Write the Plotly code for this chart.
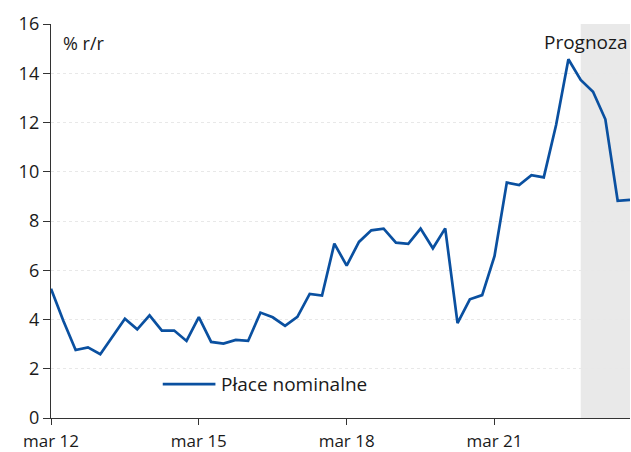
import plotly.graph_objects as go

quarters = list(range(48))
values = [5.25, 3.95, 2.76, 2.87, 2.59, 3.3, 4.03, 3.6, 4.17, 3.55, 3.55, 3.13,
          4.1, 3.09, 3.02, 3.17, 3.13, 4.28, 4.09, 3.74, 4.11, 5.04, 4.97, 7.08,
          6.19, 7.15, 7.62, 7.69, 7.12, 7.07, 7.69, 6.89, 7.7, 3.85, 4.82, 4.99,
          6.57, 9.56, 9.46, 9.86, 9.77, 11.9, 14.57, 13.73, 13.25, 12.13, 8.82, 8.86]
tick_vals = [0, 12, 24, 36]
tick_text = ["mar 12", "mar 15", "mar 18", "mar 21"]
forecast_start = 43
series_name = "Płace nominalne"

FONT = "Open Sans"
BLUE = "#0a50a0"
TXT = "#1a1a1a"

fig = go.Figure()
fig.add_trace(go.Scatter(x=quarters, y=values, mode="lines", name=series_name,
                         line=dict(color=BLUE, width=2.7), showlegend=False,
                         hoverinfo="skip"))

fig.add_shape(type="rect", xref="x", yref="paper", x0=forecast_start, x1=47,
              y0=0, y1=1, fillcolor="#e9e9e9", line=dict(width=0), layer="below")

# manual legend
fig.add_shape(type="line", xref="paper", yref="paper", x0=0.193, x1=0.284,
              y0=0.086, y1=0.086, line=dict(color=BLUE, width=2.7))
fig.add_annotation(xref="paper", yref="paper", x=0.291, y=0.086, text=series_name,
                   showarrow=False, xanchor="left", yanchor="middle",
                   font=dict(family=FONT, size=19, color=TXT))

fig.add_annotation(xref="paper", yref="paper", x=0.018, y=0.952, text="% r/r",
                   showarrow=False, xanchor="left", yanchor="middle",
                   font=dict(family=FONT, size=18, color=TXT))
fig.add_annotation(xref="paper", yref="paper", x=1.0, y=0.955, text="Prognoza",
                   showarrow=False, xanchor="right", yanchor="middle",
                   font=dict(family=FONT, size=19, color=TXT))

fig.update_layout(
    width=631, height=452,
    margin=dict(l=51, r=1, t=24, b=34, autoexpand=False),
    plot_bgcolor="white", paper_bgcolor="white",
    font=dict(family=FONT, size=18, color=TXT),
    showlegend=False,
)
fig.update_xaxes(range=[0, 47], tickvals=tick_vals, ticktext=tick_text,
                 showgrid=False, showline=True, linecolor="#333", linewidth=1.2,
                 ticks="outside", ticklen=6, tickcolor="#333", zeroline=False,
                 automargin=False, ticklabelstandoff=1, tickfont=dict(size=17))
fig.update_yaxes(range=[0, 16], dtick=2, showgrid=True, gridcolor="#e8e8e8",
                 griddash="dot", gridwidth=1, showline=True, linecolor="#333",
                 linewidth=1.2, ticks="outside", ticklen=7, tickcolor="#333",
                 zeroline=False, automargin=False)

fig.write_html("out.html", config={"displayModeBar": False, "staticPlot": True},
               post_script="document.body.style.margin='0';document.body.style.overflow='hidden';")
